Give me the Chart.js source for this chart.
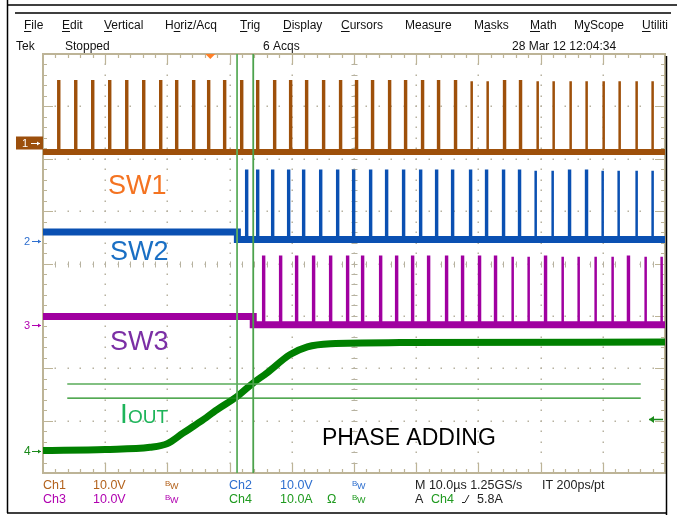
<!DOCTYPE html>
<html lang="en">
<head>
<meta charset="UTF-8">
<title>Phase adding</title>
<script src="https://cdn.jsdelivr.net/npm/chart.js"></script>
<style>
  html, body { margin: 0; padding: 0; background: #fff; }
</style>
</head>
<body>
<canvas id="scope" width="677" height="515"></canvas>
<script>
// x: time in us (10 us/div), y: screen divisions (8 div, 0 = bottom)

// SW1 (Ch1) switches over the whole record
const sw1Pulses = [2.46, 5.19, 7.92, 10.65, 13.39, 16.12, 18.85, 21.42, 24.15, 26.56, 29.13,
  31.87, 34.44, 37.17, 39.74, 42.31, 45.04, 47.77, 50.34, 52.91, 55.65, 58.22, 60.95, 63.52,
  66.25, 68.82, 71.39, 74.13, 76.70, 79.43, 82.00, 84.73, 87.30, 90.04, 92.61, 95.34, 97.91];
const sw1Low = [6.13, 6.13];
const sw1High = 7.48;

// SW2 (Ch2) is added at the first cursor
const sw2Pulses = [32.67, 34.44, 36.85, 39.42, 41.83, 44.57, 47.30, 49.87, 52.60, 55.17, 57.90,
  60.64, 63.21, 65.78, 68.67, 71.24, 73.97, 76.54, 79.11, 81.84, 84.58, 87.31, 89.88, 92.45,
  95.34, 97.91];
const sw2Low = [4.60, 4.46];
const sw2High = 5.77;
const sw2Start = 31.25;

// SW3 (Ch3) is added at the second cursor
const sw3Pulses = [35.40, 38.13, 40.70, 43.43, 46.17, 48.90, 51.31, 54.21, 56.78, 59.35, 61.92,
  64.81, 67.38, 70.11, 72.68, 75.41, 77.98, 80.72, 83.45, 86.02, 88.75, 91.48, 94.05, 96.79, 99.36];
const sw3Low = [2.99, 2.83];
const sw3High = 4.13;
const sw3Start = 33.8;

// IOUT (Ch4)
const ioutTimes = [0, 10, 17.2, 20.0, 22.5, 25.3, 28.0, 31.2, 33.8, 36.0, 39.7, 42.5, 46.2, 57.4, 100];
const ioutLevels = [0.43, 0.45, 0.49, 0.56, 0.76, 0.98, 1.21, 1.46, 1.72, 1.91, 2.26, 2.41, 2.47, 2.49, 2.50];

// cursors, trigger and channel ground markers
const cursorTimes = [31.2, 33.8];
const cursorLevels = [1.70, 1.43];
const cursorSpan = [3.9, 96.1];
const triggerTime = 26.9;
const triggerLevel = 1.03;
const groundLevels = [6.30, 4.43, 2.83, 0.42];

const pulseWidth = 0.15;

function baseline(low, start) {
  if (start === undefined) return [{x: 0, y: low[0]}, {x: 100, y: low[1]}];
  return [{x: 0, y: low[0]}, {x: start, y: low[0]}, {x: start, y: low[1]}, {x: 100, y: low[1]}];
}

function spikes(times, low, high) {
  const pts = [];
  times.forEach(t => {
    pts.push({x: t, y: low}, {x: t, y: high}, {x: t + pulseWidth, y: high},
      {x: t + pulseWidth, y: low}, {x: t + pulseWidth, y: null});
  });
  return pts;
}

const colors = {
  ch1: '#9e500a', ch2: '#0a50b2', ch3: '#a000a0', ch4: '#008000', grid: '#b7b2a0'
};

function line(data, color, width, order) {
  return { data: data, borderColor: color, borderWidth: width, pointRadius: 0,
    tension: 0, spanGaps: false, fill: false, order: order };
}

const datasets = [
  line(baseline(sw1Low), colors.ch1, 6, 5),
  line(spikes(sw1Pulses, sw1Low[1], sw1High), colors.ch1, 2.5, 5),
  line(baseline(sw2Low, sw2Start), colors.ch2, 7, 5),
  line(spikes(sw2Pulses, sw2Low[1], sw2High), colors.ch2, 2.5, 5),
  line(baseline(sw3Low, sw3Start), colors.ch3, 7, 5),
  line(spikes(sw3Pulses, sw3Low[1], sw3High), colors.ch3, 2.5, 5),
  Object.assign(line(ioutTimes.map((t, i) => ({x: t, y: ioutLevels[i]})), colors.ch4, 7, 4),
    {cubicInterpolationMode: 'monotone'}),
  line([{x: cursorTimes[0], y: 0}, {x: cursorTimes[0], y: 8}], '#5fae5f', 1.8, 2),
  line([{x: cursorTimes[1], y: 0}, {x: cursorTimes[1], y: 8}], '#4ca24c', 1.8, 2),
  line([{x: cursorSpan[0], y: cursorLevels[0]}, {x: cursorSpan[1], y: cursorLevels[0]}], '#58ab58', 1.4, 2),
  line([{x: cursorSpan[0], y: cursorLevels[1]}, {x: cursorSpan[1], y: cursorLevels[1]}], '#1a8c1a', 1.4, 2)
];

function arrow(ctx, x0, x1, y, head) {
  ctx.beginPath();
  ctx.moveTo(x0, y);
  ctx.lineTo(x1, y);
  ctx.stroke();
  const d = x1 > x0 ? -1 : 1;
  ctx.beginPath();
  ctx.moveTo(x1, y);
  ctx.lineTo(x1 + d * head, y - head * 0.7);
  ctx.lineTo(x1 + d * head, y + head * 0.7);
  ctx.closePath();
  ctx.fill();
}

const scopeFrame = {
  id: 'scopeFrame',
  beforeDatasetsDraw(chart) {
    const {ctx, chartArea: a, scales: {x, y}} = chart;
    ctx.save();
    // dotted graticule
    ctx.fillStyle = colors.grid;
    for (let i = 1; i < 10; i++) {
      const px = Math.round(x.getPixelForValue(i * 10));
      for (let j = 1; j < 40; j++) {
        ctx.fillRect(px - 0.5, Math.round(y.getPixelForValue(j * 0.2)) - 0.5, 1.5, 1.5);
      }
    }
    for (let j = 1; j < 8; j++) {
      const py = Math.round(y.getPixelForValue(j));
      for (let i = 1; i < 50; i++) {
        ctx.fillRect(Math.round(x.getPixelForValue(i * 2)) - 0.5, py - 0.5, 1.5, 1.5);
      }
    }
    // centre cross ticks
    ctx.strokeStyle = colors.grid;
    ctx.lineWidth = 1;
    const cx = Math.round(x.getPixelForValue(50)) + 0.5;
    const cy = Math.round(y.getPixelForValue(4)) + 0.5;
    for (let j = 1; j < 40; j++) {
      const py = Math.round(y.getPixelForValue(j * 0.2)) + 0.5;
      ctx.beginPath(); ctx.moveTo(cx - 3, py); ctx.lineTo(cx + 3, py); ctx.stroke();
    }
    for (let i = 1; i < 50; i++) {
      const px = Math.round(x.getPixelForValue(i * 2)) + 0.5;
      ctx.beginPath(); ctx.moveTo(px, cy - 3); ctx.lineTo(px, cy + 3); ctx.stroke();
    }
    // border with ticks
    ctx.strokeStyle = '#bdb497';
    ctx.lineWidth = 2;
    ctx.strokeRect(a.left, a.top, a.right - a.left, a.bottom - a.top);
    ctx.lineWidth = 1.2;
    for (let i = 1; i < 50; i++) {
      const px = Math.round(x.getPixelForValue(i * 2)) + 0.5;
      const len = i % 5 === 0 ? 10 : 4;
      ctx.beginPath();
      ctx.moveTo(px, a.top); ctx.lineTo(px, a.top + len);
      ctx.moveTo(px, a.bottom); ctx.lineTo(px, a.bottom - len);
      ctx.stroke();
    }
    for (let j = 1; j < 40; j++) {
      const py = Math.round(y.getPixelForValue(j * 0.2)) + 0.5;
      const len = j % 5 === 0 ? 10 : 4;
      ctx.beginPath();
      ctx.moveTo(a.left, py); ctx.lineTo(a.left + len, py);
      ctx.moveTo(a.right, py); ctx.lineTo(a.right - len, py);
      ctx.stroke();
    }
    ctx.restore();
  },
  afterDraw(chart) {
    const {ctx, chartArea: a, scales: {x, y}} = chart;
    ctx.save();
    // window frame
    ctx.strokeStyle = '#000';
    ctx.lineWidth = 1.5;
    ctx.beginPath();
    ctx.moveTo(7.5, 0); ctx.lineTo(7.5, 513);
    ctx.moveTo(7, 5); ctx.lineTo(677, 5);
    ctx.moveTo(15, 13); ctx.lineTo(671, 13);
    ctx.moveTo(666.5, 56); ctx.lineTo(666.5, 515);
    ctx.moveTo(7, 513); ctx.lineTo(666, 513);
    ctx.stroke();

    // menu bar
    ctx.fillStyle = '#111';
    ctx.font = '12px "Liberation Sans", Arial, sans-serif';
    ctx.textBaseline = 'alphabetic';
    const menu = [['File', 24, 0], ['Edit', 62, 0], ['Vertical', 104, 0], ['Horiz/Acq', 165, 1],
      ['Trig', 240, 0], ['Display', 283, 0], ['Cursors', 341, 0], ['Measure', 405, 4],
      ['Masks', 474, 1], ['Math', 530, 0], ['MyScope', 574, 1], ['Utiliti', 642, 0]];
    ctx.lineWidth = 1;
    ctx.strokeStyle = '#111';
    menu.forEach(([t, px, u]) => {
      ctx.fillText(t, px, 29);
      const ux = px + ctx.measureText(t.slice(0, u)).width;
      const uw = ctx.measureText(t[u]).width;
      ctx.beginPath(); ctx.moveTo(ux, 31.5); ctx.lineTo(ux + uw, 31.5); ctx.stroke();
    });
    ctx.fillText('Tek', 16, 50);
    ctx.fillText('Stopped', 65, 50);
    ctx.fillText('6 Acqs', 263, 50);
    ctx.fillText('28 Mar 12 12:04:34', 512, 50);

    // status bar
    const c1 = '#b3621c', c2 = '#2e6fcf', c3 = '#b000b0', c4 = '#1f9a1f';
    const bw = (px, py, col) => {
      ctx.fillStyle = col;
      ctx.font = '8px "Liberation Sans", Arial, sans-serif';
      ctx.fillText('B', px, py - 3);
      ctx.font = '9px "Liberation Sans", Arial, sans-serif';
      ctx.fillText('W', px + 5, py);
    };
    const txt = (t, px, py, col) => {
      ctx.fillStyle = col;
      ctx.font = '12.5px "Liberation Sans", Arial, sans-serif';
      ctx.fillText(t, px, py);
    };
    txt('Ch1', 43, 489, c1); txt('10.0V', 93, 489, c1); bw(165, 489, c1);
    txt('Ch2', 229, 489, c2); txt('10.0V', 280, 489, c2); bw(352, 489, c2);
    txt('M 10.0\u00b5s 1.25GS/s', 415, 489, '#222'); txt('IT 200ps/pt', 542, 489, '#222');
    txt('Ch3', 43, 503, c3); txt('10.0V', 93, 503, c3); bw(165, 503, c3);
    txt('Ch4', 229, 503, c4); txt('10.0A', 280, 503, c4); txt('\u03a9', 327, 503, c4); bw(352, 503, c4);
    txt('A', 415, 503, '#222'); txt('Ch4', 431, 503, c4); txt('5.8A', 477, 503, '#222');
    ctx.strokeStyle = '#222';
    ctx.lineWidth = 1;
    ctx.beginPath(); ctx.moveTo(462, 502.5); ctx.lineTo(465, 502.5); ctx.lineTo(469, 495); ctx.stroke();

    // trace labels
    ctx.font = '27px "Liberation Sans", Arial, sans-serif';
    ctx.fillStyle = '#f47321'; ctx.fillText('SW1', 108, 194);
    ctx.fillStyle = '#1a6fc4'; ctx.fillText('SW2', 110, 260);
    ctx.fillStyle = '#7b2fa5'; ctx.fillText('SW3', 110, 350);
    ctx.fillStyle = '#1db45a';
    ctx.font = '28px "Liberation Sans", Arial, sans-serif';
    ctx.fillText('I', 120, 423);
    ctx.font = '19px "Liberation Sans", Arial, sans-serif';
    ctx.fillText('OUT', 128, 423);
    ctx.fillStyle = '#000';
    ctx.font = '23px "Liberation Sans", Arial, sans-serif';
    ctx.fillText('PHASE ADDING', 322, 445);

    // channel ground markers
    const gy = groundLevels.map(v => Math.round(y.getPixelForValue(v)) + 0.5);
    ctx.fillStyle = '#9c4f0c';
    ctx.fillRect(16, gy[0] - 7, 27, 13);
    ctx.font = '11px "Liberation Sans", Arial, sans-serif';
    ctx.textBaseline = 'middle';
    ctx.fillStyle = '#fff'; ctx.strokeStyle = '#fff';
    ctx.fillText('1', 22, gy[0]);
    arrow(ctx, 31, 40, gy[0], 3);
    [[c2, '2', 1], [c3, '3', 2], ['#1a8a1a', '4', 3]].forEach(([col, t, i]) => {
      ctx.fillStyle = col; ctx.strokeStyle = col;
      ctx.font = (i === 3 ? '12px' : '11px') + ' "Liberation Sans", Arial, sans-serif';
      ctx.fillText(t, 24, gy[i]);
      arrow(ctx, 32, 41, gy[i], 3);
    });

    // trigger position and level
    const tx = x.getPixelForValue(triggerTime);
    ctx.fillStyle = '#ff7f27';
    ctx.beginPath();
    ctx.moveTo(tx - 5, a.top); ctx.lineTo(tx + 5, a.top); ctx.lineTo(tx, a.top + 5);
    ctx.closePath(); ctx.fill();
    ctx.fillStyle = '#1a8a1a'; ctx.strokeStyle = '#1a8a1a'; ctx.lineWidth = 1.5;
    arrow(ctx, 663, 649, Math.round(y.getPixelForValue(triggerLevel)) + 0.5, 5);
    ctx.restore();
  }
};

new Chart(document.getElementById('scope'), {
  type: 'line',
  data: { datasets: datasets },
  options: {
    responsive: false,
    animation: false,
    devicePixelRatio: 1,
    layout: { padding: { left: 43, right: 12, top: 54, bottom: 42 } },
    plugins: { legend: { display: false }, tooltip: { enabled: false } },
    scales: {
      x: { type: 'linear', min: 0, max: 100, display: false },
      y: { type: 'linear', min: 0, max: 8, display: false }
    }
  },
  plugins: [scopeFrame]
});
</script>
</body>
</html>
